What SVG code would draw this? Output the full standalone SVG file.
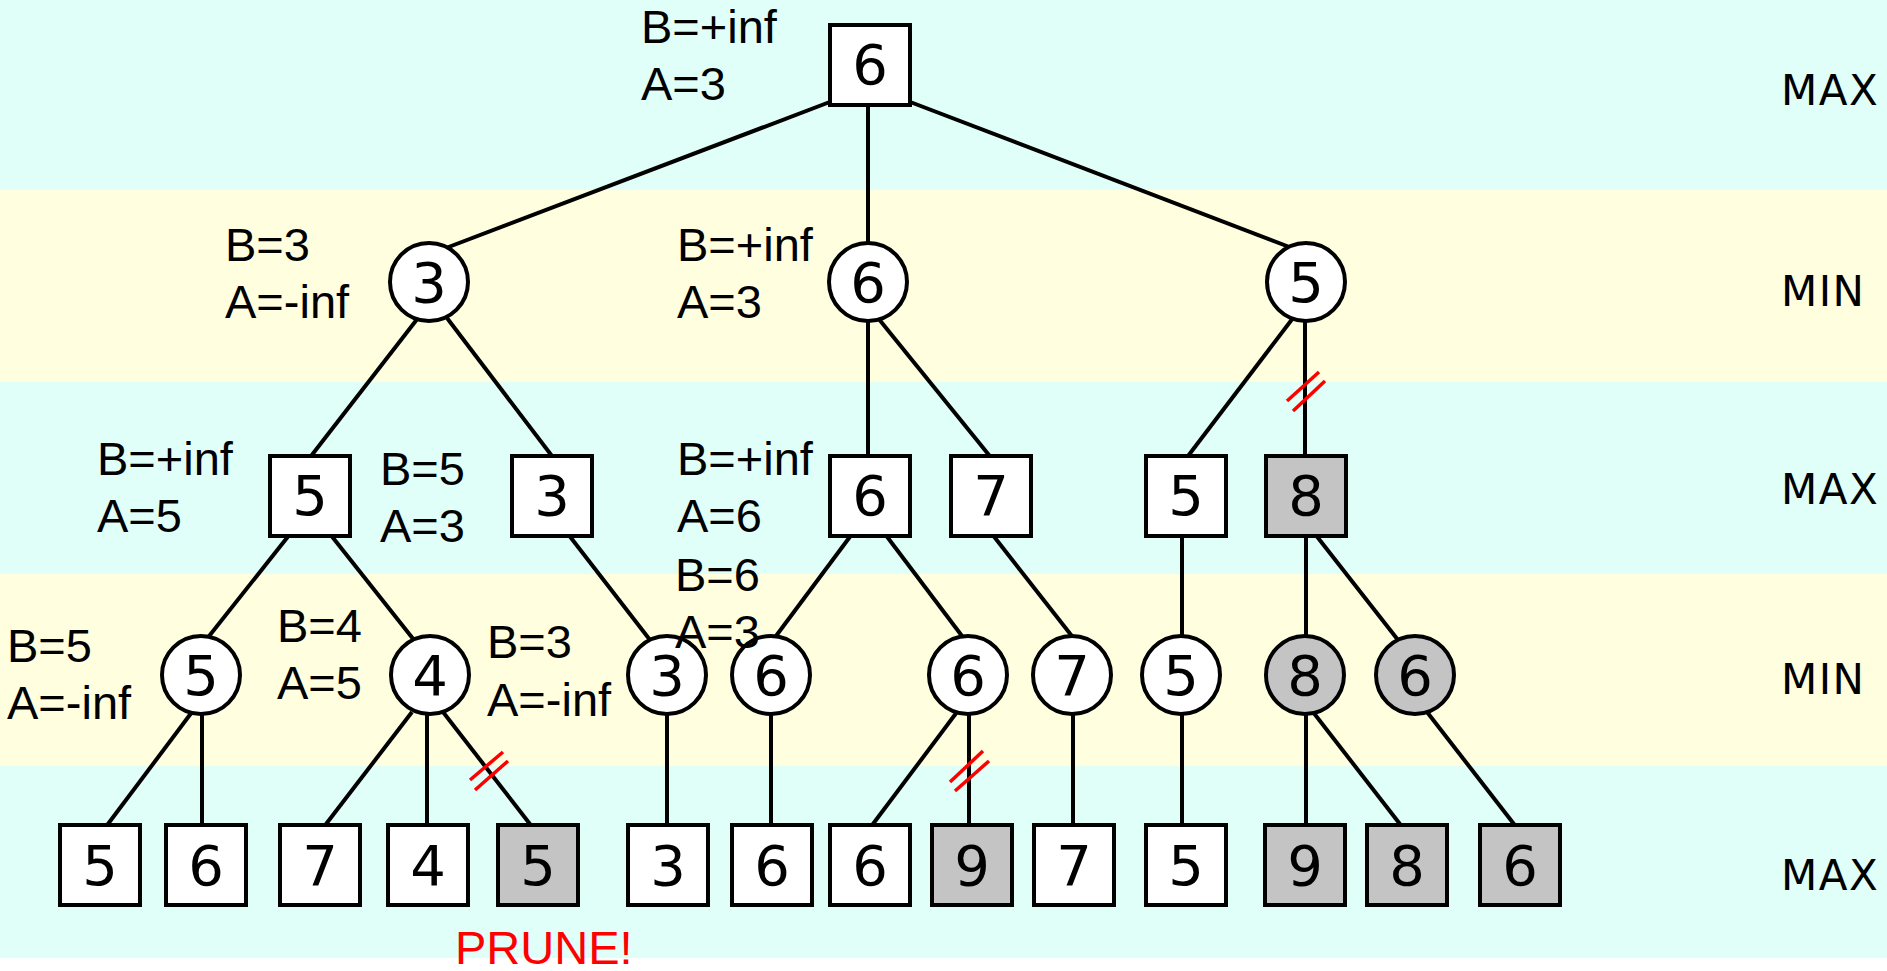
<svg xmlns="http://www.w3.org/2000/svg" width="1887" height="971" viewBox="0 0 1887 971">
<style>
.bc{fill:#e0fff8}
.by{fill:#ffffe0}
.box{fill:#ffffff;stroke:#000;stroke-width:4}
.gbox{fill:#c4c4c4;stroke:#000;stroke-width:4}
.num{font-family:"DejaVu Sans",sans-serif;font-size:56px;text-anchor:middle;fill:#000}
.lbl{font-family:"Liberation Sans",Arial,sans-serif;font-size:47px;fill:#000}
.lvl{font-family:"DejaVu Sans",sans-serif;font-size:42px;letter-spacing:1.5px;fill:#000}
.prune{font-family:"Liberation Sans",Arial,sans-serif;font-size:47px;fill:#ff0000}
.edge{stroke:#000;stroke-width:4;fill:none}
.cut{stroke:#ff0000;stroke-width:3.5;fill:none}
</style>
<rect x="0" y="0" width="1887" height="971" fill="#ffffff"/>
<g id="bands">
<rect class="bc" x="0" y="0" width="1887" height="190"/>
<rect class="by" x="0" y="190" width="1887" height="192"/>
<rect class="bc" x="0" y="382" width="1887" height="192"/>
<rect class="by" x="0" y="574" width="1887" height="192"/>
<rect class="bc" x="0" y="766" width="1887" height="192"/>
</g>
<g id="levels">
<text class="lvl" x="1781" y="105">MAX</text>
<text class="lvl" x="1781" y="306">MIN</text>
<text class="lvl" x="1781" y="504">MAX</text>
<text class="lvl" x="1781" y="694">MIN</text>
<text class="lvl" x="1781" y="890">MAX</text>
</g>
<g id="connectors">
<line class="edge" x1="835" y1="100" x2="446" y2="248"/>
<line class="edge" x1="868" y1="100" x2="868" y2="250"/>
<line class="edge" x1="905" y1="100" x2="1292" y2="248"/>
<line class="edge" x1="418" y1="318" x2="308" y2="460"/>
<line class="edge" x1="447" y1="318" x2="555" y2="460"/>
<line class="edge" x1="868" y1="318" x2="868" y2="460"/>
<line class="edge" x1="878" y1="318" x2="993" y2="460"/>
<line class="edge" x1="1293" y1="318" x2="1185" y2="460"/>
<line class="edge" x1="1305" y1="318" x2="1305" y2="460"/>
<line class="edge" x1="290" y1="534" x2="206" y2="640"/>
<line class="edge" x1="330" y1="534" x2="414" y2="640"/>
<line class="edge" x1="568" y1="534" x2="650" y2="640"/>
<line class="edge" x1="852" y1="534" x2="773" y2="640"/>
<line class="edge" x1="885" y1="534" x2="965" y2="640"/>
<line class="edge" x1="992" y1="534" x2="1075" y2="640"/>
<line class="edge" x1="1182" y1="534" x2="1182" y2="640"/>
<line class="edge" x1="1306" y1="534" x2="1306" y2="640"/>
<line class="edge" x1="1315" y1="534" x2="1398" y2="640"/>
<line class="edge" x1="192" y1="712" x2="105" y2="828"/>
<line class="edge" x1="202" y1="712" x2="202" y2="828"/>
<line class="edge" x1="412" y1="712" x2="323" y2="828"/>
<line class="edge" x1="427" y1="712" x2="427" y2="828"/>
<line class="edge" x1="443" y1="712" x2="533" y2="828"/>
<line class="edge" x1="667" y1="712" x2="667" y2="828"/>
<line class="edge" x1="771" y1="712" x2="771" y2="828"/>
<line class="edge" x1="957" y1="712" x2="870" y2="828"/>
<line class="edge" x1="969" y1="712" x2="969" y2="828"/>
<line class="edge" x1="1073" y1="712" x2="1073" y2="828"/>
<line class="edge" x1="1182" y1="712" x2="1182" y2="828"/>
<line class="edge" x1="1306" y1="712" x2="1306" y2="828"/>
<line class="edge" x1="1313" y1="712" x2="1403" y2="828"/>
<line class="edge" x1="1427" y1="712" x2="1517" y2="828"/>
</g>
<g id="cuts">
<line class="cut" x1="1287" y1="401" x2="1319" y2="372"/>
<line class="cut" x1="1293" y1="411" x2="1325" y2="381"/>
<line class="cut" x1="470" y1="780" x2="503" y2="752"/>
<line class="cut" x1="475" y1="790" x2="508" y2="761"/>
<line class="cut" x1="950" y1="782" x2="983" y2="751"/>
<line class="cut" x1="955" y1="791" x2="989" y2="761"/>
</g>
<g id="root"><rect class="box" x="830" y="25" width="80" height="80"/><text class="num" x="870" y="84">6</text></g>
<g id="n1a"><circle class="box" cx="429" cy="282" r="39"/><text class="num" x="429" y="302">3</text></g>
<g id="n1b"><circle class="box" cx="868" cy="282" r="39"/><text class="num" x="868" y="302">6</text></g>
<g id="n1c"><circle class="box" cx="1306" cy="282" r="39"/><text class="num" x="1306" y="302">5</text></g>
<g id="n2a"><rect class="box" x="270" y="456" width="80" height="80"/><text class="num" x="310" y="515">5</text></g>
<g id="n2b"><rect class="box" x="512" y="456" width="80" height="80"/><text class="num" x="552" y="515">3</text></g>
<g id="n2c"><rect class="box" x="830" y="456" width="80" height="80"/><text class="num" x="870" y="515">6</text></g>
<g id="n2d"><rect class="box" x="951" y="456" width="80" height="80"/><text class="num" x="991" y="515">7</text></g>
<g id="n2e"><rect class="box" x="1146" y="456" width="80" height="80"/><text class="num" x="1186" y="515">5</text></g>
<g id="n2f"><rect class="gbox" x="1266" y="456" width="80" height="80"/><text class="num" x="1306" y="515">8</text></g>
<g id="n3a"><circle class="box" cx="201" cy="675" r="39"/><text class="num" x="201" y="695">5</text></g>
<g id="n3b"><circle class="box" cx="430" cy="675" r="39"/><text class="num" x="430" y="695">4</text></g>
<g id="n3c"><circle class="box" cx="667" cy="675" r="39"/><text class="num" x="667" y="695">3</text></g>
<g id="n3d"><circle class="box" cx="771" cy="675" r="39"/><text class="num" x="771" y="695">6</text></g>
<g id="n3e"><circle class="box" cx="968" cy="675" r="39"/><text class="num" x="968" y="695">6</text></g>
<g id="n3f"><circle class="box" cx="1072" cy="675" r="39"/><text class="num" x="1072" y="695">7</text></g>
<g id="n3g"><circle class="box" cx="1181" cy="675" r="39"/><text class="num" x="1181" y="695">5</text></g>
<g id="n3h"><circle class="gbox" cx="1305" cy="675" r="39"/><text class="num" x="1305" y="695">8</text></g>
<g id="n3i"><circle class="gbox" cx="1415" cy="675" r="39"/><text class="num" x="1415" y="695">6</text></g>
<g id="l1"><rect class="box" x="60" y="825" width="80" height="80"/><text class="num" x="100" y="885">5</text></g>
<g id="l2"><rect class="box" x="166" y="825" width="80" height="80"/><text class="num" x="206" y="885">6</text></g>
<g id="l3"><rect class="box" x="280" y="825" width="80" height="80"/><text class="num" x="320" y="885">7</text></g>
<g id="l4"><rect class="box" x="388" y="825" width="80" height="80"/><text class="num" x="428" y="885">4</text></g>
<g id="l5"><rect class="gbox" x="498" y="825" width="80" height="80"/><text class="num" x="538" y="885">5</text></g>
<g id="l6"><rect class="box" x="628" y="825" width="80" height="80"/><text class="num" x="668" y="885">3</text></g>
<g id="l7"><rect class="box" x="732" y="825" width="80" height="80"/><text class="num" x="772" y="885">6</text></g>
<g id="l8"><rect class="box" x="830" y="825" width="80" height="80"/><text class="num" x="870" y="885">6</text></g>
<g id="l9"><rect class="gbox" x="932" y="825" width="80" height="80"/><text class="num" x="972" y="885">9</text></g>
<g id="l10"><rect class="box" x="1034" y="825" width="80" height="80"/><text class="num" x="1074" y="885">7</text></g>
<g id="l11"><rect class="box" x="1146" y="825" width="80" height="80"/><text class="num" x="1186" y="885">5</text></g>
<g id="l12"><rect class="gbox" x="1265" y="825" width="80" height="80"/><text class="num" x="1305" y="885">9</text></g>
<g id="l13"><rect class="gbox" x="1367" y="825" width="80" height="80"/><text class="num" x="1407" y="885">8</text></g>
<g id="l14"><rect class="gbox" x="1480" y="825" width="80" height="80"/><text class="num" x="1520" y="885">6</text></g>
<g id="labels">
<text class="lbl" x="641" y="43">B=+inf</text>
<text class="lbl" x="641" y="100">A=3</text>
<text class="lbl" x="225" y="261">B=3</text>
<text class="lbl" x="225" y="318">A=-inf</text>
<text class="lbl" x="677" y="261">B=+inf</text>
<text class="lbl" x="677" y="318">A=3</text>
<text class="lbl" x="97" y="475">B=+inf</text>
<text class="lbl" x="97" y="532">A=5</text>
<text class="lbl" x="380" y="485">B=5</text>
<text class="lbl" x="380" y="542">A=3</text>
<text class="lbl" x="677" y="475">B=+inf</text>
<text class="lbl" x="677" y="532">A=6</text>
<text class="lbl" x="675" y="591">B=6</text>
<text class="lbl" x="675" y="648">A=3</text>
<text class="lbl" x="7" y="662">B=5</text>
<text class="lbl" x="7" y="719">A=-inf</text>
<text class="lbl" x="277" y="642">B=4</text>
<text class="lbl" x="277" y="699">A=5</text>
<text class="lbl" x="487" y="658">B=3</text>
<text class="lbl" x="487" y="716">A=-inf</text>
<text class="prune" x="455" y="964">PRUNE!</text>
</g>
</svg>
